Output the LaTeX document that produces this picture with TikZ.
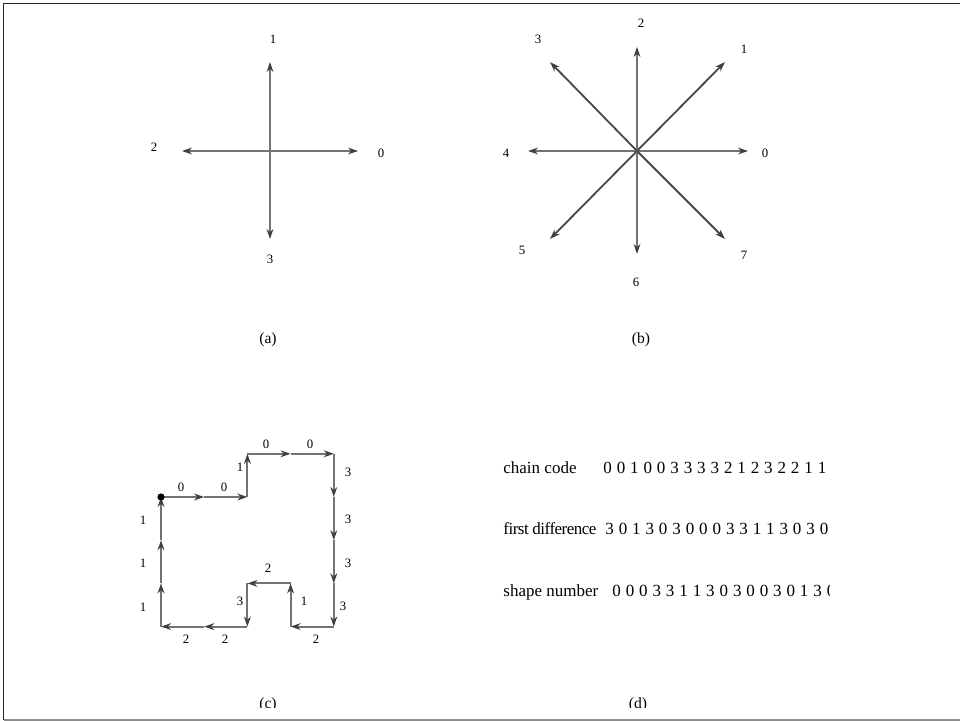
\documentclass[tikz,border=0pt]{standalone}
\usepackage{fontspec}
\setmainfont{Liberation Serif}
\usetikzlibrary{arrows.meta}
\begin{document}
\begin{tikzpicture}[x=0.5pt,y=-0.5pt,
  vec/.style={draw=black!55, line width=0.9pt, -{Stealth[length=5pt,width=3.4pt,inset=1.6pt,color=black!75]}},
  dvec/.style={vec, draw=black!72},
  stepvec/.style={draw=black!55, line width=0.95pt, -{Stealth[length=5pt,width=3.4pt,inset=1.6pt,color=black!75]}},
  lbl/.style={font=\fontsize{6.4}{7}\selectfont, inner sep=0pt},
  captxt/.style={font=\fontsize{7.8}{9}\selectfont, inner sep=0pt},
  txt/.style={font=\fontsize{8.5}{10}\selectfont, inner sep=0pt, anchor=base west},
  dig/.style={txt, execute at begin node={\spaceskip=2.45pt\relax}},
  frameline/.style={draw=black!85, line width=0.8pt},
]
\useasboundingbox (0,0) rectangle (960,721);

% frame
\coordinate (ftl) at (3.5,3.5);
\coordinate (ftr) at (960,3.5);
\coordinate (fbl) at (3.5,720);
\coordinate (fbr) at (960,720);
\draw[frameline] (ftr) -- (ftl) -- (fbl);
\draw[draw=black!45, line width=0.6pt] (fbl) -- (fbr);

% ---------- panel (a) ----------
\coordinate (ac) at (270,151);
\coordinate (aE) at (358,151);
\coordinate (aN) at (270,62);
\coordinate (aW) at (182,151);
\coordinate (aS) at (270,239);
\draw[vec] (ac) -- (aE);
\draw[vec] (ac) -- (aN);
\draw[vec] (ac) -- (aW);
\draw[vec] (ac) -- (aS);
\node[lbl] (a0) at (381,153) {0};
\node[lbl] (a1) at (273,39) {1};
\node[lbl] (a2) at (154,147) {2};
\node[lbl] (a3) at (270,259) {3};
\node[captxt] (capa) at (268,340) {(a)};

% ---------- panel (b) ----------
\coordinate (bc) at (637,151);
\coordinate (b0) at (748,151);
\coordinate (b1) at (725,62);
\coordinate (b2) at (637,47);
\coordinate (b3) at (550,62);
\coordinate (b4) at (528,151);
\coordinate (b5) at (550,239);
\coordinate (b6) at (637,254);
\coordinate (b7) at (725,239);
\draw[vec] (bc) -- (b0);
\draw[dvec] (bc) -- (b1);
\draw[vec] (bc) -- (b2);
\draw[dvec] (bc) -- (b3);
\draw[vec] (bc) -- (b4);
\draw[dvec] (bc) -- (b5);
\draw[vec] (bc) -- (b6);
\draw[dvec] (bc) -- (b7);
\node[lbl] (bl0) at (765,153) {0};
\node[lbl] (bl1) at (744,49) {1};
\node[lbl] (bl2) at (641,23) {2};
\node[lbl] (bl3) at (538,39) {3};
\node[lbl] (bl4) at (506,153) {4};
\node[lbl] (bl5) at (522,250) {5};
\node[lbl] (bl6) at (636,282) {6};
\node[lbl] (bl7) at (744,255) {7};
\node[captxt] (capb) at (641,340) {(b)};

% ---------- panel (c) ----------
\coordinate (p00) at (161,497);
\coordinate (p10) at (204.2,497);
\coordinate (p20) at (247.4,497);
\coordinate (p21) at (247.4,453.8);
\coordinate (p31) at (290.6,453.8);
\coordinate (p41) at (333.8,453.8);
\coordinate (p40) at (333.8,497);
\coordinate (p4m1) at (333.8,540.2);
\coordinate (p4m2) at (333.8,583.4);
\coordinate (p4m3) at (333.8,626.6);
\coordinate (p3m3) at (290.6,626.6);
\coordinate (p3m2) at (290.6,583.4);
\coordinate (p2m2) at (247.4,583.4);
\coordinate (p2m3) at (247.4,626.6);
\coordinate (p1m3) at (204.2,626.6);
\coordinate (p0m3) at (161,626.6);
\coordinate (p0m2) at (161,583.4);
\coordinate (p0m1) at (161,540.2);
\draw[stepvec] (p00) -- (p10);
\draw[stepvec] (p10) -- (p20);
\draw[stepvec] (p20) -- (p21);
\draw[stepvec] (p21) -- (p31);
\draw[stepvec] (p31) -- (p41);
\draw[stepvec] (p41) -- (p40);
\draw[stepvec] (p40) -- (p4m1);
\draw[stepvec] (p4m1) -- (p4m2);
\draw[stepvec] (p4m2) -- (p4m3);
\draw[stepvec] (p4m3) -- (p3m3);
\draw[stepvec] (p3m3) -- (p3m2);
\draw[stepvec] (p3m2) -- (p2m2);
\draw[stepvec] (p2m2) -- (p2m3);
\draw[stepvec] (p2m3) -- (p1m3);
\draw[stepvec] (p1m3) -- (p0m3);
\draw[stepvec] (p0m3) -- (p0m2);
\draw[stepvec] (p0m2) -- (p0m1);
\draw[stepvec] (p0m1) -- (p00);
\fill[black] (p00) circle (3.6);
\node[lbl] (c1) at (181,487) {0};
\node[lbl] (c2) at (224,487) {0};
\node[lbl] (c3) at (240,467) {1};
\node[lbl] (c4) at (266,444) {0};
\node[lbl] (c5) at (310,444) {0};
\node[lbl] (c6) at (348,472) {3};
\node[lbl] (c7) at (348,519) {3};
\node[lbl] (c8) at (348,563) {3};
\node[lbl] (c9) at (343,606) {3};
\node[lbl] (c10) at (316,639) {2};
\node[lbl] (c11) at (304,601) {1};
\node[lbl] (c12) at (268,568) {2};
\node[lbl] (c13) at (240,601) {3};
\node[lbl] (c14) at (225,639) {2};
\node[lbl] (c15) at (186,639) {2};
\node[lbl] (c16) at (143,607) {1};
\node[lbl] (c17) at (143,563) {1};
\node[lbl] (c18) at (143,520) {1};

% ---------- panel (d) ----------
\node[txt] (dcc) at (503,474) {chain code};
\node[txt] (dfd) at (503,535) {\addfontfeature{LetterSpace=-3}first difference};
\node[txt] (dsn) at (503,597) {shape number};
\begin{scope}
\clip (500,440) rectangle (829,620);
\node[dig] (dccv) at (603,474) {0 0 1 0 0 3 3 3 3 2 1 2 3 2 2 1 1};
\node[dig] (dfdv) at (605,535) {3 0 1 3 0 3 0 0 0 3 3 1 1 3 0 3 0};
\node[dig] (dsnv) at (612,597) {0 0 0 3 3 1 1 3 0 3 0 0 3 0 1 3 0};
\end{scope}

% captions cut by the lower edge
\begin{scope}
\clip (0,600) rectangle (960,708);
\node[captxt] (capc) at (268,705) {(c)};
\node[captxt] (capd) at (638,705) {(d)};
\end{scope}
\end{tikzpicture}
\end{document}
